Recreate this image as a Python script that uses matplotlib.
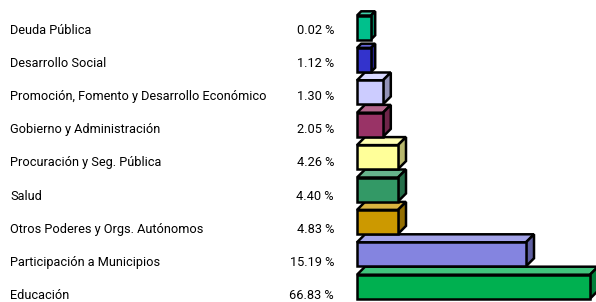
import numpy as np
import matplotlib
matplotlib.use('Agg')
import matplotlib.pyplot as plt
from matplotlib.patches import Polygon
from matplotlib.colors import to_rgb

# ====== Data ======
categories = [
    'Deuda Pública',
    'Desarrollo Social',
    'Promoción, Fomento y Desarrollo Económico',
    'Gobierno y Administración',
    'Procuración y Seg. Pública',
    'Salud',
    'Otros Poderes y Orgs. Autónomos',
    'Participación a Municipios',
    'Educación',
]
percent = [0.02, 1.12, 1.30, 2.05, 4.26, 4.40, 4.83, 15.19, 66.83]
# drawn bar length as it appears in the original (not proportional to percent)
bar_len = [14, 14, 26, 26, 41, 41, 41, 169, 233]
colors = ['#00C08C', '#3333CC', '#CCCCFF', '#993366', '#FFFF99',
          '#339966', '#CC9900', '#8484E0', '#00B050']

# ====== Figure ======
plt.rcParams['font.family'] = ['Roboto', 'DejaVu Sans']

fig = plt.figure(figsize=(5.96, 3.02), dpi=100)
ax = fig.add_axes([0, 0, 1, 1])
ax.set_xlim(0, 596)
ax.set_ylim(302, 0)
ax.axis('off')

x0 = 357
bar_h = 24
y_bar = 27.5 + 32.4 * np.arange(len(categories))
y_lab = 30 + 33.2 * np.arange(len(categories))


def shade(c, f):
    r = np.array(to_rgb(c))
    return tuple(np.clip(r * f, 0, 1))


def tint(c, f):
    r = np.array(to_rgb(c))
    return tuple(r + (1 - r) * f)


ax.barh(y_bar, bar_len, left=x0, height=bar_h, color=colors,
        edgecolor='black', linewidth=1.8, zorder=3)

for i, (L, c) in enumerate(zip(bar_len, colors)):
    d = min(8, 0.3 * L)
    top = y_bar[i] - bar_h / 2
    bot = y_bar[i] + bar_h / 2
    right = x0 + L
    top_face = Polygon([(x0, top), (x0 + d, top - d), (right + d, top - d), (right, top)],
                       closed=True, facecolor=tint(c, 0.25), edgecolor='black',
                       linewidth=1.8, joinstyle='miter', zorder=2)
    side_face = Polygon([(right, top), (right + d, top - d), (right + d, bot - d), (right, bot)],
                        closed=True, facecolor=shade(c, 0.72), edgecolor='black',
                        linewidth=1.8, joinstyle='miter', zorder=2)
    ax.add_patch(top_face)
    ax.add_patch(side_face)

for i, (name, p) in enumerate(zip(categories, percent)):
    ax.text(10, y_lab[i], name, ha='left', va='center', fontsize=9.2, color='black')
    ax.text(334, y_lab[i], f'{p:.2f} %', ha='right', va='center', fontsize=9.2, color='black')

fig.savefig('out.png', dpi=100)
